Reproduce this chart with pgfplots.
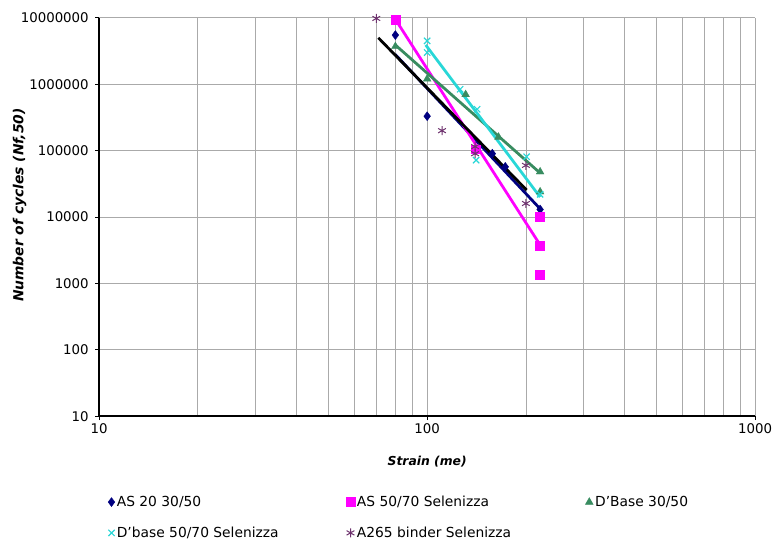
\documentclass[border=0pt]{standalone}
\usepackage{fontspec}
\setmainfont{DejaVu Sans}
\usepackage{pgfplots}
\pgfplotsset{compat=1.18}
\definecolor{asnavy}{RGB}{0,0,128}
\definecolor{asmag}{RGB}{255,0,255}
\definecolor{dbgreen}{RGB}{56,140,96}
\definecolor{dbcyan}{RGB}{40,215,215}
\definecolor{apurple}{RGB}{110,50,110}
\definecolor{gridg}{RGB}{170,170,170}
\begin{document}
\begin{tikzpicture}
\begin{axis}[
    name=ax,
    xmode=log, ymode=log,
    scale only axis, width=662bp, height=402bp,
    xmin=10, xmax=1000, ymin=10, ymax=1e7,
    log ticks with fixed point,
    /pgf/number format/1000 sep={},
    /pgf/number format/assume math mode=true,
    xtick={10,100,1000},
    ytick={10,100,1000,10000,100000,1000000,10000000},
    axis lines=left,
    axis line style={-, line width=1.8bp, black},
    xmajorgrids, xminorgrids, ymajorgrids,
    grid style={gridg, line width=0.8bp},
    minor grid style={gridg, line width=0.8bp},
    tick align=outside,
    major tick length=4bp, minor tick length=0bp,
    tick style={black, line width=0.8bp},
    ticklabel style={font=\fontsize{13.5}{16}\selectfont},
    yticklabel style={xshift=-3bp},
    xlabel={\textbf{\textit{Strain (me)}}},
    ylabel={\textbf{\textit{Number of cycles (Nf,50)}}},
    xlabel style={font=\fontsize{12.5}{14}\selectfont, yshift=-16bp},
    every axis y label/.style={at={(axis description cs:-0.121,0.53)}, rotate=90,
      anchor=center, font=\fontsize{14}{16}\selectfont},
    legend style={draw=none, at={(axis description cs:0.009,-0.19)}, anchor=north west,
      font=\fontsize{14}{16}\selectfont, row sep=15bp,
      /tikz/column 2/.style={column sep=66bp},
      /tikz/column 4/.style={column sep=73bp}},
    legend columns=3,
    legend cell align=left,
]
% data points
\addplot[only marks, mark=diamond*, mark size=4.5bp, color=asnavy]
  coordinates {(80,5.5e6) (100,3.3e5) (158,9e4) (173,5.7e4) (221,1.3e4)};
\addplot[only marks, mark=square*, mark size=4.5bp, color=asmag]
  coordinates {(80,9.3e6) (141,1.05e5) (221,1.0e4) (221,3.7e3) (221,1.35e3)};
\addplot[only marks, mark=triangle*, mark size=4.5bp, color=dbgreen]
  coordinates {(80,3.7e6) (100,1.2e6) (131,7.0e5) (165,1.6e5) (221,4.8e4) (221,2.4e4)};
\addplot[only marks, mark=x, mark size=4.5bp, line width=1.2bp, color=dbcyan]
  coordinates {(100,4.5e6) (100,3.0e6) (126,8.4e5) (142,4.2e5) (141,7.2e4) (201,8.1e4) (221,2.2e4)};
\addplot[only marks, mark=asterisk, mark size=4.5bp, line width=1bp, color=apurple]
  coordinates {(70,9.8e6) (111,2.0e5) (140,1.15e5) (140,9.0e4) (200,6.0e4) (200,1.6e4)};
% trend lines
\addplot[forget plot, asnavy, line width=2.8bp] coordinates {(80,2.8e6) (221,1.33e4)};
\addplot[forget plot, asmag, line width=2.8bp] coordinates {(80,9.5e6) (221,3.8e3)};
\addplot[forget plot, dbgreen, line width=2.8bp] coordinates {(80,3.9e6) (221,4.6e4)};
\addplot[forget plot, dbcyan, line width=2.8bp] coordinates {(99,3.9e6) (221,2.0e4)};
\addplot[forget plot, black, line width=2.8bp] coordinates {(71,5.0e6) (201,2.55e4)};
\legend{AS 20 30/50, AS 50/70 Selenizza, D'Base 30/50, D'base 50/70 Selenizza, A265 binder Selenizza}
\end{axis}
\pgfresetboundingbox
\path[use as bounding box] ([shift={(-100bp,-125bp)}]ax.south west) rectangle ([shift={(22bp,18bp)}]ax.north east);
\end{tikzpicture}
\end{document}
